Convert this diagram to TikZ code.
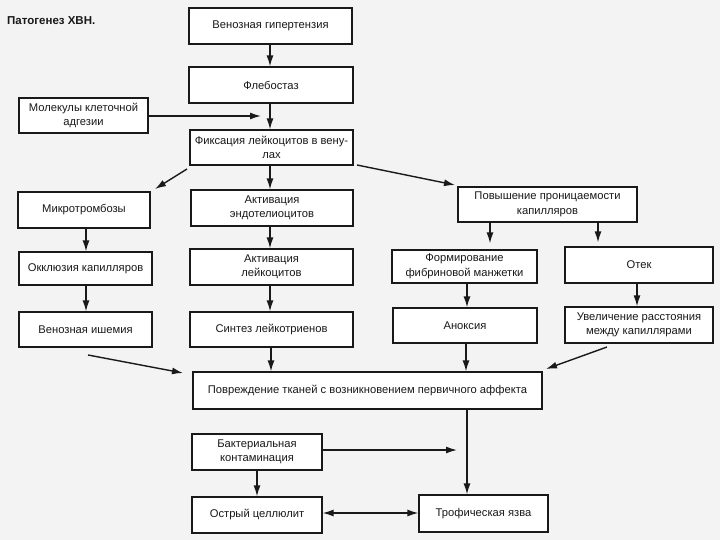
\documentclass[tikz,border=0pt]{standalone}
\usepackage{fontspec}
\setmainfont{Liberation Sans}
\usetikzlibrary{arrows.meta}
\definecolor{bg}{RGB}{243,243,243}
\definecolor{ink}{RGB}{25,25,25}
\newcommand\mybox[6]{%
  \node[box, minimum width={(#4-#2)*1pt}, minimum height={(#5-#3)*1pt}] (#1) at ({(#2+#4)/2},{(#3+#5)/2}) {#6};}
\begin{document}
\begin{tikzpicture}[x=1pt,y=-1pt,
  box/.style={draw=ink, line width=1.2pt, fill=white, align=center, inner sep=1pt,
    font=\fontsize{11.2}{14.5}\selectfont, text=ink},
  arr/.style={draw=ink, line width=1.4pt, -{Latex[length=11pt,width=7pt]}},
  darr/.style={draw=ink, line width=1.4pt, {Latex[length=11pt,width=7pt]}-{Latex[length=11pt,width=7pt]}}]
\path[use as bounding box, fill=bg] (0,0) rectangle (720,540);

\node[anchor=west, inner sep=1pt, font=\bfseries\fontsize{11.5}{13}\selectfont, text=ink] (title) at (6,21) {Патогенез ХВН.};

\mybox{ven}{189}{8}{352}{44}{Венозная гипертензия}
\mybox{fleb}{189}{67}{353}{103}{Флебостаз}
\mybox{mol}{19}{98}{148}{133}{Молекулы клеточной\\адгезии}
\mybox{fix}{190}{130}{353}{165}{Фиксация лейкоцитов в вену-\\лах}
\mybox{micro}{18}{192}{150}{228}{Микротромбозы}
\mybox{akte}{191}{190}{353}{226}{Активация\\эндотелиоцитов}
\mybox{perm}{458}{187}{637}{222}{Повышение проницаемости\\капилляров}
\mybox{okk}{19}{252}{152}{285}{Окклюзия капилляров}
\mybox{aktl}{190}{249}{353}{285}{Активация\\лейкоцитов}
\mybox{form}{392}{250}{537}{283}{Формирование\\фибриновой манжетки}
\mybox{otek}{565}{247}{713}{283}{Отек}
\mybox{isch}{19}{312}{152}{347}{Венозная ишемия}
\mybox{sint}{190}{312}{353}{347}{Синтез лейкотриенов}
\mybox{anox}{393}{308}{537}{343}{Аноксия}
\mybox{uvel}{565}{307}{713}{343}{Увеличение расстояния\\между капиллярами}
\mybox{povr}{193}{372}{542}{409}{Повреждение тканей с возникновением первичного аффекта}
\mybox{bakt}{192}{434}{322}{470}{Бактериальная\\контаминация}
\mybox{ostr}{192}{497}{322}{533}{Острый целлюлит}
\mybox{troph}{419}{495}{548}{532}{Трофическая язва}

\coordinate (molend) at (261,116);
\coordinate (fixa) at (187,169);
\coordinate (fixb) at (357,165);
\coordinate (ischa) at (88,355);
\coordinate (uvela) at (607,347);
\coordinate (baktend) at (457,450);

\draw[arr] (ven.south -| 270,0) -- (fleb.north -| 270,0);
\draw[arr] (fleb.south -| 270,0) -- (fix.north -| 270,0);
\draw[arr] (mol.east |- molend) -- (molend);
\draw[arr] (fixa) -- (155,189);
\draw[arr] (fix.south -| 270,0) -- (akte.north -| 270,0);
\draw[arr] (fixb) -- (455,185);
\draw[arr] (micro.south -| 86,0) -- (okk.north -| 86,0);
\draw[arr] (okk.south -| 86,0) -- (isch.north -| 86,0);
\draw[arr] (akte.south -| 270,0) -- (aktl.north -| 270,0);
\draw[arr] (aktl.south -| 270,0) -- (sint.north -| 270,0);
\draw[arr] (sint.south -| 271,0) -- (povr.north -| 271,0);
\draw[arr] (ischa) -- (183,373);
\draw[arr, shorten >=6pt] (perm.south -| 490,0) -- (form.north -| 490,0);
\draw[arr, shorten >=4pt] (perm.south -| 598,0) -- (otek.north -| 598,0);
\draw[arr] (form.south -| 467,0) -- (anox.north -| 467,0);
\draw[arr] (otek.south -| 637,0) -- (uvel.north -| 637,0);
\draw[arr] (anox.south -| 466,0) -- (povr.north -| 466,0);
\draw[arr] (uvela) -- (546,369);
\draw[arr] (povr.south -| 467,0) -- (troph.north -| 467,0);
\draw[arr] (bakt.east |- baktend) -- (baktend);
\draw[arr] (bakt.south -| 257,0) -- (ostr.north -| 257,0);
\draw[darr] (ostr.east |- 0,513) -- (troph.west |- 0,513);
\end{tikzpicture}
\end{document}
